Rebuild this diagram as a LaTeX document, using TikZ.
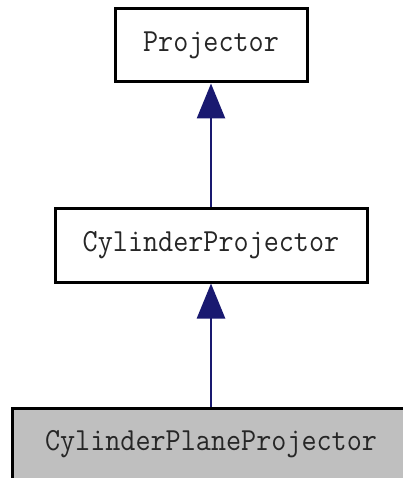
\documentclass[tikz,border=0pt]{standalone}
\usetikzlibrary{arrows.meta}
\definecolor{edgeblue}{HTML}{191970}
\definecolor{leafgray}{HTML}{BFBFBF}
\newcommand{\cls}[1]{\scalebox{1}[1.1]{\fontsize{29.3}{34}\selectfont\ttfamily #1}}
\tikzset{
  classbox/.style={draw=black, line width=3pt, fill=white, rectangle, inner sep=0pt, text=black!85},
  leafbox/.style={classbox, fill=leafgray},
  inherit/.style={draw=edgeblue, line width=2.6pt,
    -{Triangle[length=35pt, width=28pt, fill=edgeblue]}},
}
\begin{document}
\begin{tikzpicture}[x=1pt, y=1pt]
  \useasboundingbox (0,0) rectangle (402,-478);
  \node[classbox, minimum width=192pt, minimum height=73pt] (p) at (211,-45.5) {\cls{Projector}};
  \node[classbox, minimum width=312pt, minimum height=74pt] (cp) at (211,-245) {\cls{CylinderProjector}};
  \node[leafbox, minimum width=398pt, minimum height=72pt] (cpp) at (211,-444) {\cls{CylinderPlaneProjector}};
  \draw[inherit] (cp.north) -- (p.south);
  \draw[inherit] (cpp.north) -- (cp.south);
\end{tikzpicture}
\end{document}
